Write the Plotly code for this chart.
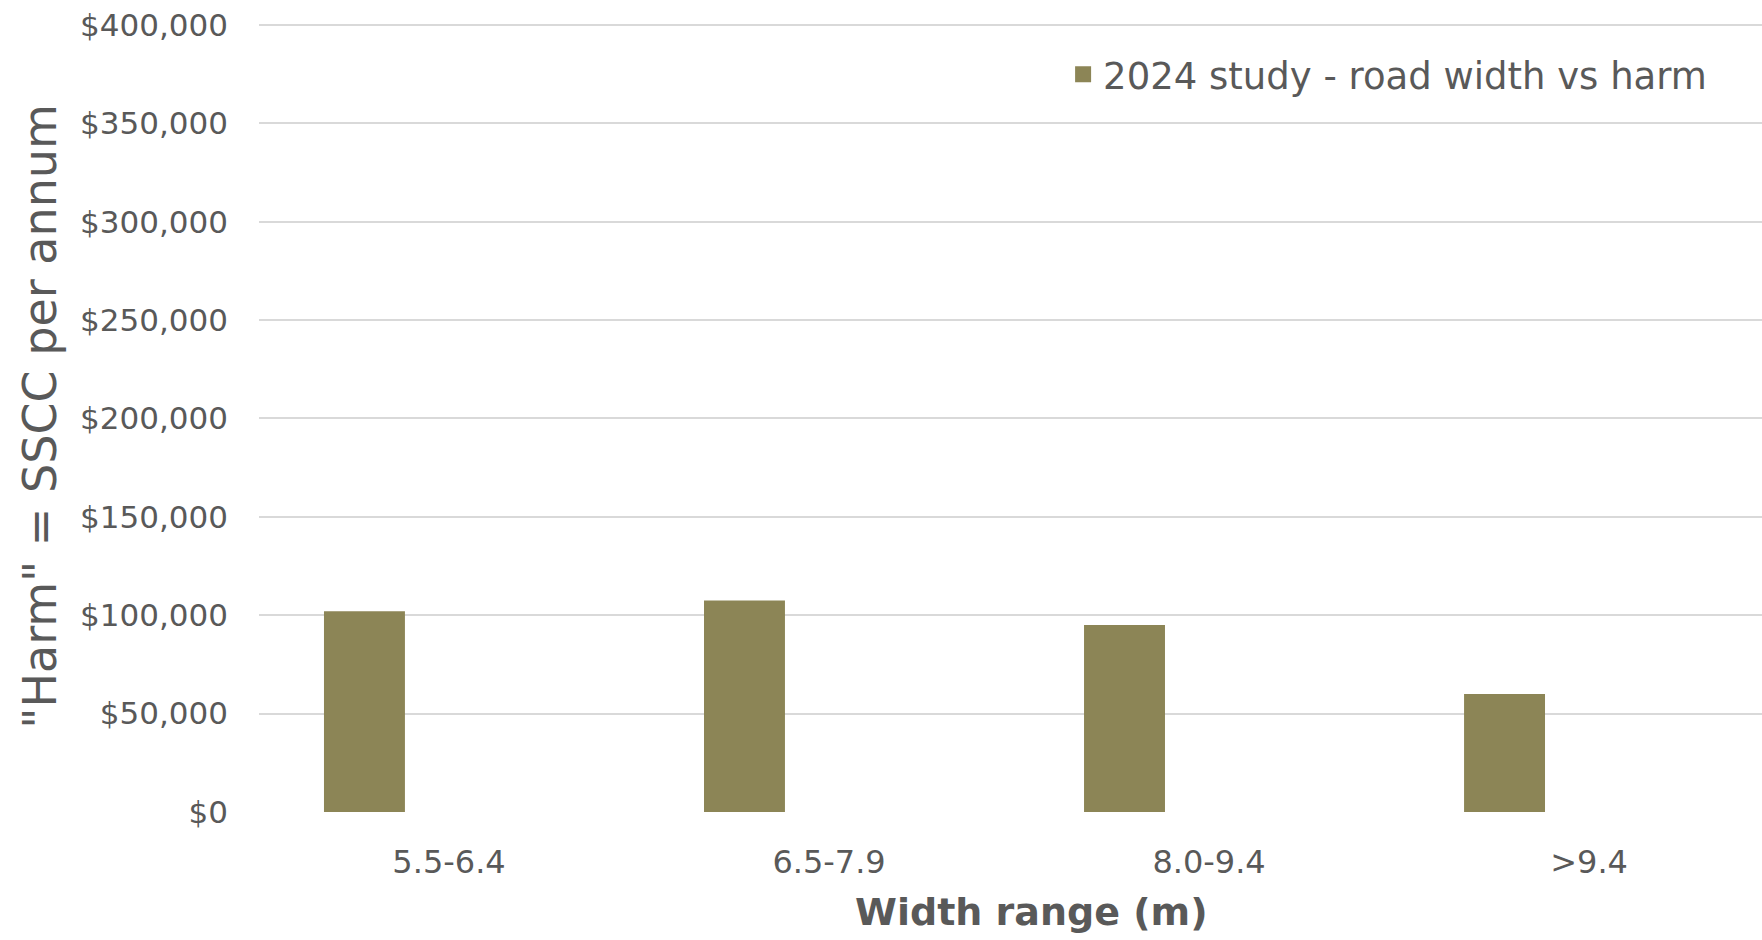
import plotly.graph_objects as go

# Harm (SSCC per annum) by road width band
categories = ["5.5-6.4", "6.5-7.9", "8.0-9.4", ">9.4"]
harm_values = [102000, 107500, 95000, 60000]
series_name = "2024 study - road width vs harm"
y_ticks = [0, 50000, 100000, 150000, 200000, 250000, 300000, 350000, 400000]
x_title = "<b>Width range (m)</b>"
y_title = "\"Harm\" = SSCC per annum"

BAR_COLOR = "#8C8556"
TEXT_COLOR = "#595959"
GRID_COLOR = "#D9D9D9"
FONT = "DejaVu Sans"

fig = go.Figure()

# Bars sit in the first slot of each category group
fig.add_trace(go.Bar(
    x=categories,
    y=harm_values,
    marker=dict(color=BAR_COLOR, line=dict(width=0)),
    width=0.213,
    offset=-0.329,
    showlegend=False,
    hoverinfo="x+y",
))

# Legend entry with a larger square swatch
fig.add_trace(go.Scatter(
    x=[None], y=[None],
    mode="markers",
    marker=dict(symbol="square", size=16, color=BAR_COLOR),
    name=series_name,
    showlegend=True,
))

fig.update_layout(
    width=1762,
    height=940,
    margin=dict(l=259, r=0, t=21, b=128),
    paper_bgcolor="white",
    plot_bgcolor="white",
    font=dict(family=FONT, color=TEXT_COLOR),
    legend=dict(
        x=0.535, y=0.932,
        xanchor="left", yanchor="middle",
        font=dict(size=37, color=TEXT_COLOR, family=FONT),
        bgcolor="rgba(0,0,0,0)",
    ),
    xaxis=dict(
        type="category",
        range=[-0.5, 3.455],
        showgrid=False,
        showline=False,
        zeroline=False,
        ticks="",
        tickfont=dict(size=32, color=TEXT_COLOR, family=FONT),
        ticklabelstandoff=28,
    ),
    yaxis=dict(
        range=[0, 402000],
        tickvals=y_ticks,
        tickformat="$,.0f",
        showgrid=True,
        gridcolor=GRID_COLOR,
        gridwidth=2,
        zeroline=False,
        showline=False,
        ticks="",
        tickfont=dict(size=31, color=TEXT_COLOR, family=FONT),
        ticklabelstandoff=30,
        title=dict(
            text=y_title,
            font=dict(size=46, color=TEXT_COLOR, family=FONT),
            standoff=8,
        ),
    ),
    annotations=[dict(
        text=x_title,
        xref="paper", yref="paper",
        x=0.514, y=-0.126,
        xanchor="center", yanchor="middle",
        showarrow=False,
        font=dict(size=38, color=TEXT_COLOR, family=FONT),
    )],
)

fig.write_html("out.html")
